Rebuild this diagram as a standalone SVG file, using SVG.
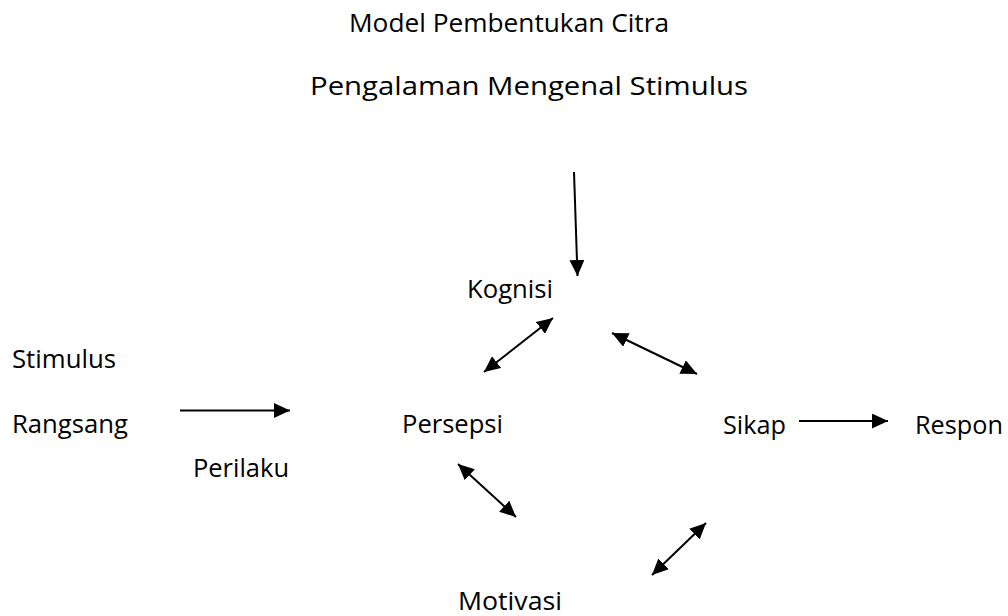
<svg xmlns="http://www.w3.org/2000/svg" width="1008" height="616" viewBox="0 0 1008 616">
<style>
text{font-family:"Open Sans","Liberation Sans",sans-serif;font-size:25px;fill:#000}
.c line{stroke:#000;stroke-width:2;fill:none}
</style>
<defs>
<marker id="ah" markerUnits="userSpaceOnUse" markerWidth="17" markerHeight="15" refX="16" refY="7.5" orient="auto-start-reverse" viewBox="0 0 17 15">
<path d="M0,0 L16,7.5 L0,15 z" fill="#000"/>
</marker>
</defs>
<rect width="1008" height="616" fill="#fff"/>
<g id="title"><text x="349" y="32" textLength="320" lengthAdjust="spacingAndGlyphs">Model Pembentukan Citra</text></g>
<g id="pengalaman"><text x="310" y="95" textLength="438" lengthAdjust="spacingAndGlyphs">Pengalaman Mengenal Stimulus</text></g>
<g id="kognisi"><text x="467" y="298" textLength="86" lengthAdjust="spacingAndGlyphs">Kognisi</text></g>
<g id="stimulus"><text x="12" y="368" textLength="104" lengthAdjust="spacingAndGlyphs">Stimulus</text></g>
<g id="rangsang"><text x="12" y="433" textLength="116" lengthAdjust="spacingAndGlyphs">Rangsang</text></g>
<g id="perilaku"><text x="193" y="477" textLength="96" lengthAdjust="spacingAndGlyphs">Perilaku</text></g>
<g id="persepsi"><text x="402" y="433" textLength="101" lengthAdjust="spacingAndGlyphs">Persepsi</text></g>
<g id="sikap"><text x="723" y="434" textLength="63" lengthAdjust="spacingAndGlyphs">Sikap</text></g>
<g id="respon"><text x="915" y="434" textLength="88" lengthAdjust="spacingAndGlyphs">Respon</text></g>
<g id="motivasi"><text x="458" y="610" textLength="104" lengthAdjust="spacingAndGlyphs">Motivasi</text></g>
<g class="c" id="connectors">
<line x1="574" y1="172" x2="577.5" y2="276" marker-end="url(#ah)"/>
<line x1="484" y1="372" x2="553" y2="318" marker-start="url(#ah)" marker-end="url(#ah)"/>
<line x1="612" y1="333" x2="697" y2="374" marker-start="url(#ah)" marker-end="url(#ah)"/>
<line x1="180" y1="410.5" x2="290" y2="410.5" marker-end="url(#ah)"/>
<line x1="799" y1="421" x2="888" y2="421" marker-end="url(#ah)"/>
<line x1="458" y1="464" x2="516" y2="517" marker-start="url(#ah)" marker-end="url(#ah)"/>
<line x1="652" y1="575" x2="706" y2="523" marker-start="url(#ah)" marker-end="url(#ah)"/>
</g>
</svg>
